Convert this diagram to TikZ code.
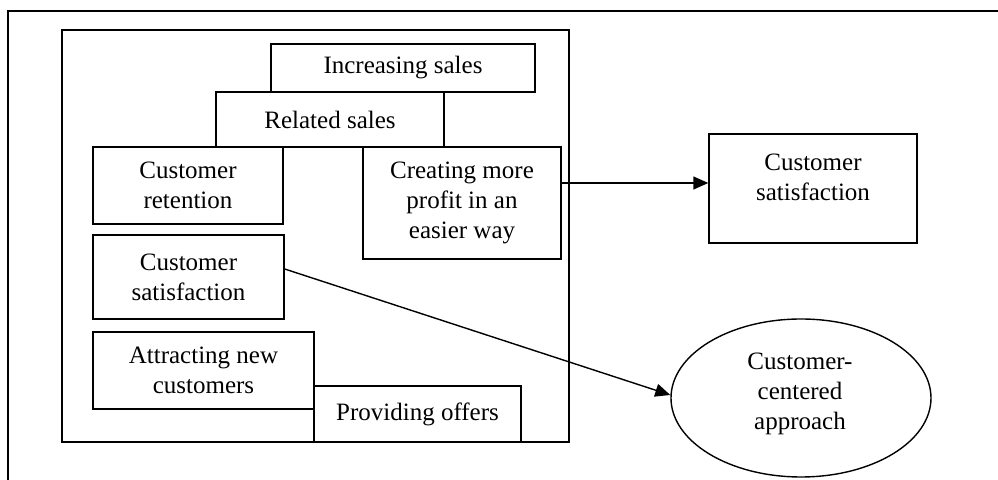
\documentclass[tikz,border=0pt]{standalone}
\usepackage{fontspec}
\setmainfont{Liberation Serif}
\usetikzlibrary{shapes.geometric,arrows.meta}
\begin{document}
\begin{tikzpicture}[x=0.5pt,y=-0.5pt,
  line width=0.7pt,
  txt/.style={align=center,inner sep=0pt,font=\fontsize{12.5}{15}\selectfont},
  box/.style={txt,draw},
  arr/.style={-{Triangle[length=7.5pt,width=6.5pt]},line width=0.7pt}]
\useasboundingbox (0,0) rectangle (998,480);
\clip (0,0) rectangle (998,480);
% outer frame (runs off the picture to the right and bottom)
\coordinate (oa) at (1010,11);
\coordinate (ob) at (8,11);
\coordinate (oc) at (8,495);
\draw (oa) -- (ob) -- (oc);
% inner frame
\node[draw,minimum width=253.5pt,minimum height=206pt,inner sep=0pt] (frame) at (315.5,236) {};
% boxes
\node[box,minimum width=132pt,minimum height=24pt] (inc) at (403,68) {Increasing sales};
\node[box,minimum width=114pt,minimum height=27.5pt] (rel) at (330,119.5) {Related sales};
\node[box,minimum width=95pt,minimum height=38.5pt] (ret) at (188,185.5) {Customer\\retention};
\node[box,minimum width=99pt,minimum height=56pt] (prof) at (462,203) {Creating more\\profit in an\\easier way};
\node[box,minimum width=95.5pt,minimum height=42pt] (sat) at (188.5,277) {Customer\\satisfaction};
\node[box,minimum width=110.5pt,minimum height=38.5pt] (attr) at (203.5,370.5) {Attracting new\\customers};
\node[box,minimum width=103.5pt,minimum height=28pt] (offer) at (417.5,414) {Providing offers};
% right box
\node[draw,minimum width=104pt,minimum height=54.5pt,inner sep=0pt] (rs) at (813,188.5) {};
\node[txt] (rst) at (813,177) {Customer\\satisfaction};
% ellipse
\node[ellipse,draw,minimum width=130pt,minimum height=79pt,inner sep=0pt] (ell) at (801,398) {};
\node[txt] (ellt) at (800,394) {Customer-\\centered\\approach};
% connectors
\draw[arr] ([yshift=10pt]prof.east) -- ([yshift=10pt]prof.east -| rs.west);
\draw[arr] ([yshift=4pt]sat.east) -- ([yshift=1.5pt]ell.west);
\end{tikzpicture}
\end{document}
